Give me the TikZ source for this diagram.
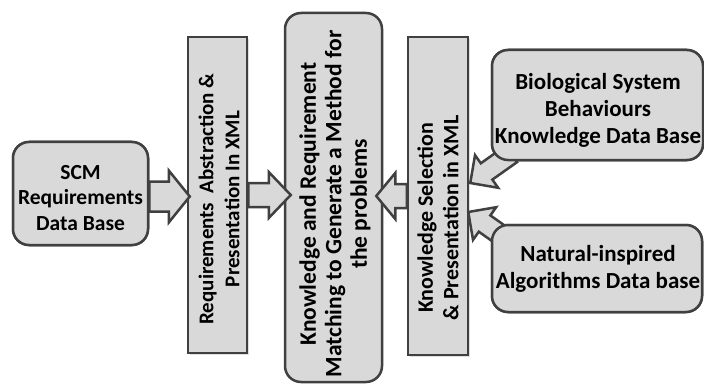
\documentclass[tikz,border=0pt]{standalone}
\usepackage{fontspec}
\setmainfont{Carlito}
\usetikzlibrary{calc,shadows}
\definecolor{boxfill}{RGB}{217,217,217}
\definecolor{boxline}{RGB}{64,64,64}
% block arrow: tail, tip, shaft half width, head half width, head length
\newcommand{\blkarrow}[5]{%
  \coordinate (bahead) at ($(#2)!#5!(#1)$);
  \filldraw[blkarrowstyle]
    ($(#1)!#3!90:(#2)$) -- ($(bahead)!#3!90:(#2)$) -- ($(bahead)!#4!90:(#2)$) --
    (#2) -- ($(bahead)!#4!-90:(#2)$) -- ($(bahead)!#3!-90:(#2)$) --
    ($(#1)!#3!-90:(#2)$) -- cycle;
}
\begin{document}
\begin{tikzpicture}[x=1pt,y=-1pt,
  box/.style={draw=boxline, fill=boxfill, line width=2.5pt, inner sep=0pt},
  rbox/.style={box, rounded corners=16pt},
  sbox/.style={box, drop shadow={shadow xshift=2pt, shadow yshift=-2pt, opacity=0.25}},
  txt/.style={font=\bfseries\fontsize{23}{27}\selectfont, align=center, text=black, inner sep=0pt},
  stxt/.style={txt, font=\bfseries\fontsize{21.5}{25.5}\selectfont},
  blkarrowstyle/.style={draw=boxline, fill=boxfill, line width=2.5pt, line join=miter}]
\useasboundingbox[fill=white] (0,0) rectangle (704,385);

% target boxes
\node[sbox, minimum width=59pt, minimum height=316pt] (req) at (217.5,195) {};
\node[txt, rotate=90, font=\bfseries\fontsize{21}{26}\selectfont] (reqt) at (219,199) {Requirements\hspace{0.45em}Abstraction \&\\Presentation In XML};

\node[rbox, minimum width=97pt, minimum height=369pt] (cen) at (333.5,197.5) {};
\node[txt, rotate=90, font=\bfseries\fontsize{23.5}{25.5}\selectfont] (cent) at (335,204) {Knowledge and Requirement\\Matching to Generate a Method for\\the problems};

\node[sbox, minimum width=60pt, minimum height=318pt] (ksel) at (438,196) {};
\node[txt, rotate=90, font=\bfseries\fontsize{22}{25.5}\selectfont] (kselt) at (438,218) {Knowledge Selection\\\& Presentation in XML};

% source nodes (positions)
\node[rbox, minimum width=135pt, minimum height=103pt] (scm) at (80.5,193.5) {};
\node[rbox, minimum width=211pt, minimum height=110pt] (bio) at (597.5,105) {};
\node[rbox, minimum width=210pt, minimum height=87pt] (nat) at (597,268.5) {};

% arrows
\coordinate (a1s) at ([yshift=-3pt]scm.east);
\coordinate (a1e) at ($(req.west |- a1s)+(3,0)$);
\blkarrow{a1s}{a1e}{15pt}{26pt}{21pt}

\coordinate (a2s) at (req.east);
\coordinate (a2e) at ($(cen.west |- req.east)+(7,0)$);
\blkarrow{a2s}{a2e}{12pt}{23pt}{22pt}

\coordinate (a3s) at (ksel.west);
\coordinate (a3e) at ($(cen.east |- ksel.west)+(-7,0)$);
\blkarrow{a3s}{a3e}{12pt}{23pt}{19pt}

\coordinate (a4e) at ($(ksel.east)+(1,-13)$);
\coordinate (a4s) at ($(a4e)+(41,-29)$);
\blkarrow{a4s}{a4e}{10pt}{20pt}{20pt}

\coordinate (a5e) at ($(ksel.east)+(-1,16)$);
\coordinate (a5s) at ($(a5e)+(41,29)$);
\blkarrow{a5s}{a5e}{10pt}{20pt}{20pt}

% source boxes drawn over the arrow tails
\node[rbox, minimum width=135pt, minimum height=103pt] at (scm) {};
\node[stxt] (scmt) at (80.5,198) {SCM\\Requirements\\Data Base};

\node[rbox, minimum width=211pt, minimum height=110pt] at (bio) {};
\node[txt] (biot) at (598,110) {Biological System\\Behaviours\\Knowledge Data Base};

\node[rbox, minimum width=210pt, minimum height=87pt] at (nat) {};
\node[txt] (natt) at (598,269) {Natural-inspired\\Algorithms Data base};
\end{tikzpicture}
\end{document}
